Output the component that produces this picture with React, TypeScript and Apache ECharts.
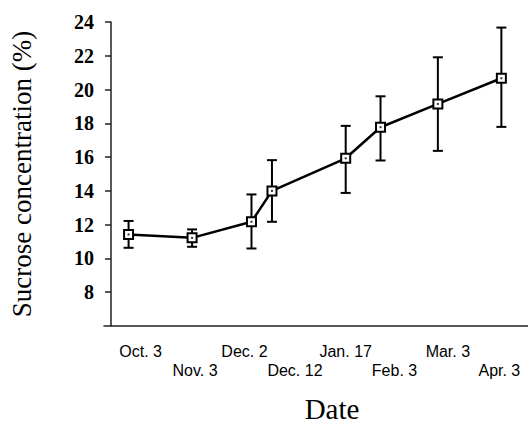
import React, { useEffect, useRef } from "react";
import * as echarts from "echarts";

const dateLabels = ["Oct. 3", "Nov. 3", "Dec. 2", "Dec. 12", "Jan. 17", "Feb. 3", "Mar. 3", "Apr. 3"];
const dayOffsets = [0, 31, 60, 70, 106, 123, 151, 182];
const means = [11.42, 11.22, 12.17, 14.0, 15.93, 17.77, 19.15, 20.67];
const lows = [10.63, 10.69, 10.59, 12.17, 13.88, 15.8, 16.37, 17.79];
const highs = [12.22, 11.72, 13.79, 15.82, 17.85, 19.6, 21.91, 23.67];
const yTickValues = [8, 10, 12, 14, 16, 18, 20, 22, 24];
const labelNudge = [12, 3, -7, 23, 0, 14, 10, -2];

export default function App() {
  const ref = useRef<HTMLDivElement>(null);
  useEffect(() => {
    if (!ref.current) return;
    const chart = echarts.init(ref.current, null, { renderer: "svg" });
    const rich: Record<string, any> = {};
    dateLabels.forEach((_, i) => {
      const n = labelNudge[i];
      rich["l" + i] = {
        fontFamily: "Liberation Sans",
        fontSize: 16,
        color: "#000",
        padding: [i % 2 === 1 ? 19 : 0, n < 0 ? -2 * n : 0, 0, n > 0 ? 2 * n : 0],
      };
    });
    const points = dayOffsets.map((d, i) => [d, means[i]]);
    const bars = dayOffsets.map((d, i) => [d, lows[i], highs[i]]);
    chart.setOption({
      animation: false,
      grid: [
        { left: 104, right: 0, top: 22, bottom: 99, containLabel: false, outerBoundsMode: "none" },
        { left: 111, right: 0, top: 22, bottom: 99, containLabel: false, outerBoundsMode: "none" },
      ],
      xAxis: [
        {
          type: "value",
          gridIndex: 0,
          min: -12,
          max: 195,
          name: "Date",
          nameLocation: "middle",
          nameGap: 68,
          nameTextStyle: {
            fontFamily: "Liberation Serif",
            fontSize: 29,
            lineHeight: 29,
            color: "#000",
            padding: [0, 0, 0, 32],
          },
          axisLine: { show: true, onZero: false, lineStyle: { color: "#222", width: 1.5 } },
          axisTick: { show: false },
          splitLine: { show: false },
          axisLabel: {
            customValues: dayOffsets,
            margin: 17,
            formatter: (v: number) => {
              const i = dayOffsets.indexOf(v);
              return i < 0 ? "" : `{l${i}|${dateLabels[i]}}`;
            },
            rich,
          },
        },
        {
          type: "value",
          gridIndex: 1,
          show: false,
        },
      ],
      yAxis: [
        {
          type: "value",
          gridIndex: 0,
          min: 6,
          max: 24,
          interval: 2,
          show: false,
          splitLine: { show: false },
        },
        {
          type: "value",
          gridIndex: 1,
          min: 6,
          max: 24,
          interval: 2,
          name: "Sucrose concentration (%)",
          nameLocation: "middle",
          nameRotate: 90,
          nameGap: 76,
          nameTextStyle: { fontFamily: "Liberation Serif", fontSize: 27, color: "#000" },
          axisLine: { show: true, lineStyle: { color: "#222", width: 1.5 } },
          axisTick: { show: true, customValues: yTickValues, length: 6, lineStyle: { color: "#222", width: 1.5 } },
          splitLine: { show: false },
          axisLabel: {
            customValues: yTickValues,
            margin: 17,
            fontFamily: "Liberation Serif",
            fontWeight: "bold",
            fontSize: 20,
            color: "#000",
          },
        },
      ],
      series: [
        {
          type: "custom",
          xAxisIndex: 0,
          yAxisIndex: 0,
          data: bars,
          z: 1,
          renderItem: (params: any, api: any) => {
            const x = api.value(0);
            const lo = api.coord([x, api.value(1)]);
            const hi = api.coord([x, api.value(2)]);
            const w = 5;
            const style = { stroke: "#000", lineWidth: 2 };
            return {
              type: "group",
              children: [
                { type: "line", shape: { x1: lo[0], y1: lo[1], x2: hi[0], y2: hi[1] }, style },
                { type: "line", shape: { x1: lo[0] - w, y1: lo[1], x2: lo[0] + w, y2: lo[1] }, style },
                { type: "line", shape: { x1: hi[0] - w, y1: hi[1], x2: hi[0] + w, y2: hi[1] }, style },
              ],
            };
          },
        },
        {
          type: "line",
          xAxisIndex: 0,
          yAxisIndex: 0,
          data: points,
          z: 2,
          symbol: "rect",
          symbolSize: 9,
          lineStyle: { color: "#000", width: 2.5 },
          itemStyle: { color: "#fff", borderColor: "#000", borderWidth: 2 },
        },
        {
          type: "scatter",
          xAxisIndex: 0,
          yAxisIndex: 0,
          data: points,
          z: 3,
          symbol: "rect",
          symbolSize: 2,
          itemStyle: { color: "#000" },
        },
      ],
    });
    return () => chart.dispose();
  }, []);
  return (
    <div
      ref={ref}
      style={{ position: "fixed", left: 0, top: 0, width: 528, height: 425, background: "#fff" }}
    />
  );
}
